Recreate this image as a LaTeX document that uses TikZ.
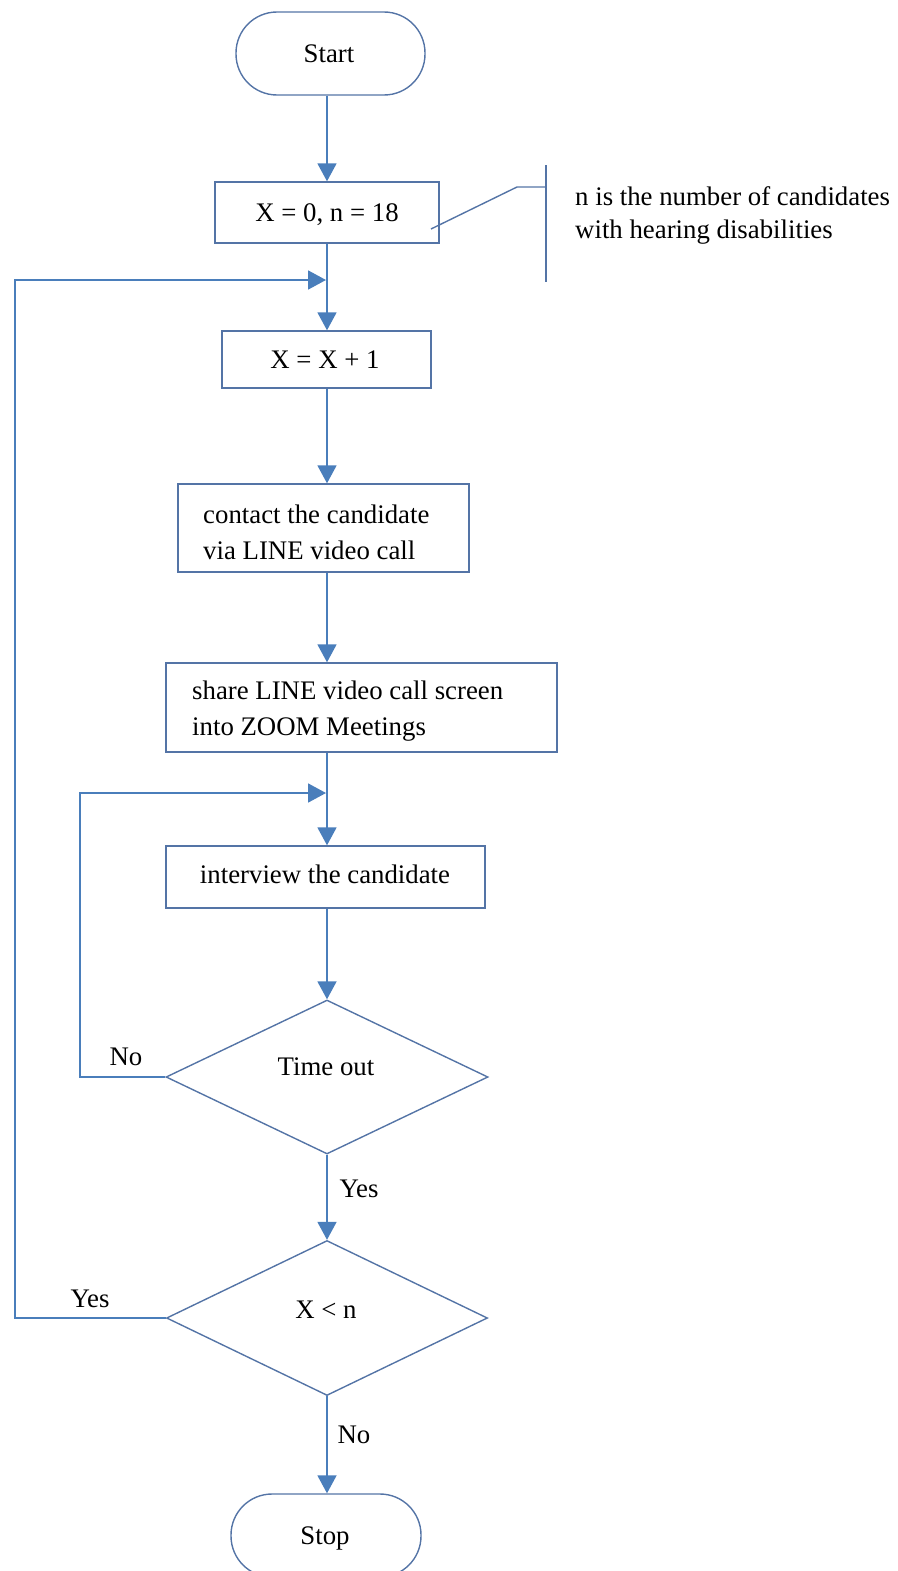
\documentclass[tikz,border=0pt]{standalone}
\usepackage{fontspec}
\setmainfont{Liberation Serif}
\usetikzlibrary{arrows.meta,shapes.geometric}
\definecolor{conn}{RGB}{74,126,187}
\definecolor{edgec}{RGB}{84,116,166}
\begin{document}
\begin{tikzpicture}[x=1pt,y=-1pt,
  font=\fontsize{26.8}{33}\selectfont,
  procbox/.style={draw=edgec, line width=1.4pt, rectangle, inner sep=0pt},
  termbox/.style={procbox, rounded corners=41pt},
  decbox/.style={draw=edgec, line width=1.4pt, diamond, inner sep=0pt},
  arr/.style={draw=conn, line width=1.8pt, -{Triangle[width=19pt,length=18pt]}},
  annot/.style={draw=edgec, line width=1.4pt},
  txt/.style={anchor=base, inner sep=0pt},
  ltxt/.style={anchor=base west, inner sep=0pt}]
\useasboundingbox (0,0) rectangle (897,1571);
\begin{scope}
\clip (0,0) rectangle (897,1571);
% shapes
\node[termbox, minimum width=189pt, minimum height=83pt] (start) at (330.5,53.5) {};
\node[txt] (startt) at (329,63) {Start};
\node[procbox, minimum width=224pt, minimum height=61pt] (init) at (327,212.5) {};
\node[txt] (initt) at (327,221) {X = 0, n = 18};
\node[procbox, minimum width=209pt, minimum height=57pt] (inc) at (326.5,359.5) {};
\node[txt] (inct) at (325,368) {X = X + 1};
\node[procbox, minimum width=291pt, minimum height=88pt] (contact) at (323.5,528) {};
\node[ltxt] (contact1) at (203,523) {contact the candidate};
\node[ltxt] (contact2) at (203,559) {via LINE video call};
\node[procbox, minimum width=391pt, minimum height=89pt] (share) at (361.5,707.5) {};
\node[ltxt] (share1) at (192,699) {share LINE video call screen};
\node[ltxt] (share2) at (192,735) {into ZOOM Meetings};
\node[procbox, minimum width=319pt, minimum height=62pt] (intv) at (325.5,877) {};
\node[txt] (intvt) at (325,883) {interview the candidate};
\node[decbox, minimum width=322pt, minimum height=154pt] (tout) at (327,1077) {};
\node[txt] (toutt) at (326,1075) {Time out};
\node[decbox, minimum width=321pt, minimum height=155pt] (xlt) at (327,1318) {};
\node[txt] (xltt) at (326,1318) {X < n};
\node[termbox, minimum width=190pt, minimum height=83pt] (stop) at (326,1535.5) {};
\node[txt] (stopt) at (325,1544) {Stop};
% labels
\node[txt] (lno1) at (126,1065) {No};
\node[txt] (lyes1) at (359,1197) {Yes};
\node[txt] (lyes2) at (90,1307) {Yes};
\node[txt] (lno2) at (354,1443) {No};
% annotation
\coordinate (ca) at (431,229);
\coordinate (cb) at (517,187);
\coordinate (cc) at (546,187);
\coordinate (bt) at (546,165);
\coordinate (bb) at (546,282);
\draw[annot] (ca) -- (cb) -- (cc);
\draw[annot] (bt) -- (bb);
\node[ltxt] (note1) at (575,205) {n is the number of candidates};
\node[ltxt] (note2) at (575,238) {with hearing disabilities};
% connectors
\coordinate (mx) at (327,0);
\coordinate (j1) at (327,280);
\coordinate (j2) at (327,793);
\coordinate (l1) at (80,0);
\coordinate (l2) at (15,0);
\draw[arr] (start.south -| mx) -- (init.north -| mx);
\draw[arr] (init.south -| mx) -- (inc.north -| mx);
\draw[arr] (inc.south -| mx) -- (contact.north -| mx);
\draw[arr] (contact.south -| mx) -- (share.north -| mx);
\draw[arr] (share.south -| mx) -- (intv.north -| mx);
\draw[arr] (intv.south -| mx) -- (tout.north);
\draw[arr] (tout.south) -- (xlt.north);
\draw[arr] (xlt.south) -- (stop.north -| mx);
\draw[arr, shorten >=1pt] (tout.west) -- (tout.west -| l1) |- (j2);
\draw[arr, shorten >=1pt] (xlt.west) -- (xlt.west -| l2) |- (j1);
\end{scope}
\end{tikzpicture}
\end{document}
